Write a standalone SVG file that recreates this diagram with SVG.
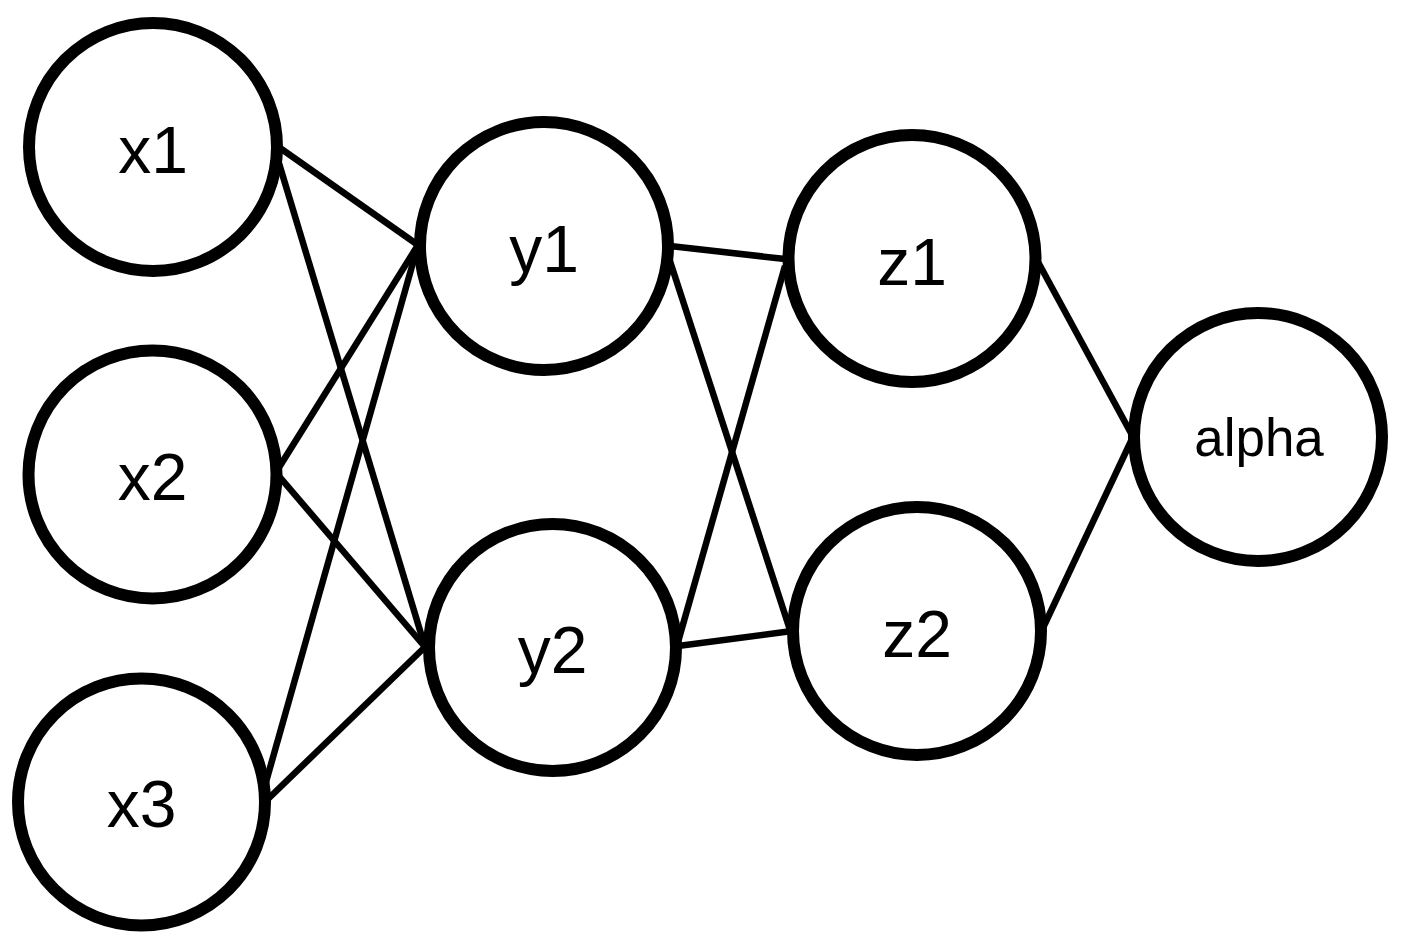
<svg xmlns="http://www.w3.org/2000/svg" width="1408" height="942" viewBox="0 0 1408 942">
<style>
.node circle{fill:#fff;stroke:#000;stroke-width:12}
.node text{font-family:"Liberation Sans",Arial,sans-serif;font-size:66px;fill:#000;text-anchor:middle}
#edges line{stroke:#000;stroke-width:6.5;stroke-linecap:butt}
</style>
<rect width="1408" height="942" fill="#fff"/>
<g id="edges">
<line x1="280" y1="148" x2="418" y2="245"/>
<line x1="278" y1="160" x2="425" y2="647"/>
<line x1="278" y1="469" x2="418" y2="245"/>
<line x1="278" y1="475" x2="425" y2="647"/>
<line x1="266" y1="782" x2="418" y2="245"/>
<line x1="268" y1="799" x2="425" y2="647"/>
<line x1="670" y1="246" x2="785" y2="259"/>
<line x1="668" y1="255" x2="790" y2="630"/>
<line x1="678" y1="642" x2="785" y2="266"/>
<line x1="678" y1="646" x2="792" y2="631"/>
<line x1="1038" y1="262" x2="1132" y2="435"/>
<line x1="1042" y1="630" x2="1132" y2="439"/>
</g>
<g id="x1" class="node"><circle cx="153" cy="147" r="124"/><text x="153" y="173">x1</text></g>
<g id="x2" class="node"><circle cx="152.5" cy="474.5" r="124"/><text x="152.5" y="500">x2</text></g>
<g id="x3" class="node"><circle cx="141.5" cy="802" r="123.5"/><text x="141.5" y="827">x3</text></g>
<g id="y1" class="node"><circle cx="544" cy="246" r="124"/><text x="544" y="272">y1</text></g>
<g id="y2" class="node"><circle cx="552.5" cy="647.5" r="123.5"/><text x="552.5" y="673">y2</text></g>
<g id="z1" class="node"><circle cx="912" cy="258.5" r="123.5"/><text x="912" y="285">z1</text></g>
<g id="z2" class="node"><circle cx="917" cy="631" r="124"/><text x="917" y="657">z2</text></g>
<g id="alpha" class="node"><circle cx="1258" cy="437" r="124"/><text x="1259" y="456" style="font-size:53px">alpha</text></g>
</svg>
